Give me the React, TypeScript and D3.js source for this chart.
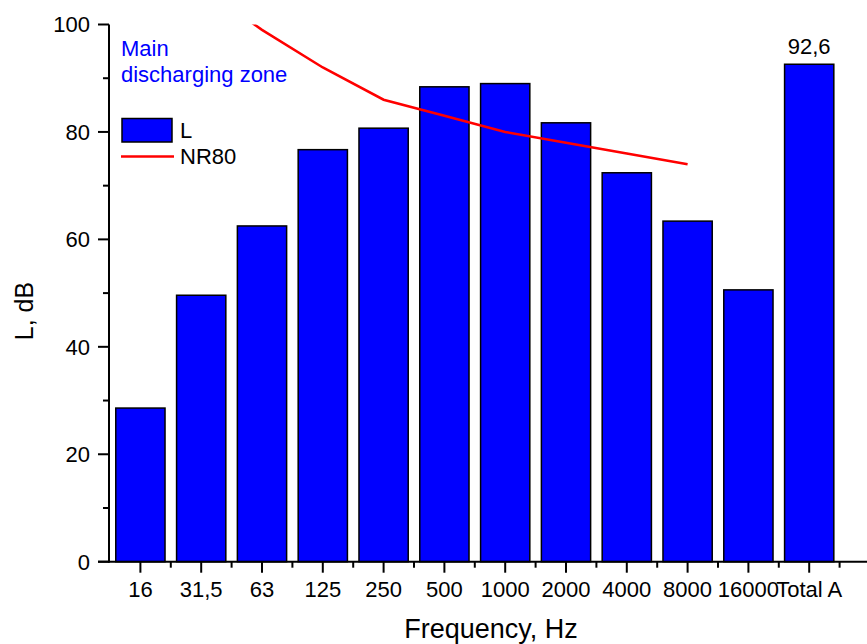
import React, { useEffect, useRef } from "react";
import * as d3 from "d3";

const categories = ["16", "31,5", "63", "125", "250", "500", "1000", "2000", "4000", "8000", "16000", "Total A"];
const levelL = [28.6, 49.6, 62.5, 76.7, 80.7, 88.4, 89.0, 81.7, 72.4, 63.4, 50.6, 92.6];
const nrCategories = ["31,5", "63", "125", "250", "500", "1000", "2000", "4000", "8000"];
const nr80 = [107, 99, 92, 86, 83, 80, 78, 76, 74];
const yTicks = [0, 20, 40, 60, 80, 100];
const yMinorTicks = [10, 30, 50, 70, 90];

const W = 867;
const H = 644;
const FONT = "Arial, 'Liberation Sans', sans-serif";

export default function App() {
  const ref = useRef<SVGSVGElement>(null);

  useEffect(() => {
    const svg = d3.select(ref.current);
    svg.selectAll("*").remove();

    const x0 = 110;
    const band = 60.8;
    const x = d3.scaleBand<string>().domain(categories).range([x0, x0 + band * categories.length]).paddingInner(0.19).paddingOuter(0.095);
    const center = (c: string) => (x(c) as number) + x.bandwidth() / 2;
    const y = d3.scaleLinear().domain([0, 100]).range([561.7, 24.5]);

    svg.append("defs").append("clipPath").attr("id", "plotclip")
      .append("rect").attr("x", x0).attr("y", y(100)).attr("width", W - x0).attr("height", y(0) - y(100));

    // bars
    svg.append("g").selectAll("rect").data(levelL).join("rect")
      .attr("x", (_d, i) => x(categories[i]) as number)
      .attr("y", (d) => y(d))
      .attr("width", x.bandwidth())
      .attr("height", (d) => y(0) - y(d))
      .attr("fill", "#0000ff")
      .attr("stroke", "#000")
      .attr("stroke-width", 1.5);

    // NR80 line
    const line = d3.line<number>().x((_d, i) => center(nrCategories[i])).y((d) => y(d));
    svg.append("path").attr("d", line(nr80) as string)
      .attr("fill", "none").attr("stroke", "#ff0000").attr("stroke-width", 2.5)
      .attr("clip-path", "url(#plotclip)");

    // axes
    const axisColor = "#000";
    const ax = svg.append("g");
    ax.append("line").attr("x1", x0 - 1).attr("x2", x0 - 1).attr("y1", y(100)).attr("y2", y(0) + 1)
      .attr("stroke", axisColor).attr("stroke-width", 2);
    ax.append("line").attr("x1", x0 - 12).attr("x2", W).attr("y1", y(0)).attr("y2", y(0))
      .attr("stroke", axisColor).attr("stroke-width", 2);

    yTicks.forEach((t) => {
      ax.append("line").attr("x1", x0 - 12).attr("x2", x0 - 1).attr("y1", y(t)).attr("y2", y(t))
        .attr("stroke", axisColor).attr("stroke-width", 2);
      ax.append("text").attr("x", x0 - 20).attr("y", y(t)).attr("dy", "0.36em")
        .attr("text-anchor", "end").attr("font-family", FONT).attr("font-size", 22).text(String(t));
    });
    yMinorTicks.forEach((t) => {
      ax.append("line").attr("x1", x0 - 7).attr("x2", x0 - 1).attr("y1", y(t)).attr("y2", y(t))
        .attr("stroke", axisColor).attr("stroke-width", 2);
    });

    categories.forEach((c, i) => {
      const cx = center(c);
      ax.append("line").attr("x1", cx).attr("x2", cx).attr("y1", y(0)).attr("y2", y(0) + 11)
        .attr("stroke", axisColor).attr("stroke-width", 2);
      const bx = x0 + band * (i + 1);
      ax.append("line").attr("x1", bx).attr("x2", bx).attr("y1", y(0)).attr("y2", y(0) + 6)
        .attr("stroke", axisColor).attr("stroke-width", 2);
      ax.append("text").attr("x", cx).attr("y", 597).attr("text-anchor", "middle")
        .attr("font-family", FONT).attr("font-size", 22).text(c);
    });

    // axis titles
    svg.append("text").attr("x", 491).attr("y", 638).attr("text-anchor", "middle")
      .attr("font-family", FONT).attr("font-size", 27).text("Frequency, Hz");
    svg.append("text").attr("transform", `translate(33,311) rotate(-90)`).attr("text-anchor", "middle")
      .attr("font-family", FONT).attr("font-size", 25).text("L, dB");

    // value label
    const last = categories.length - 1;
    svg.append("text").attr("x", center(categories[last])).attr("y", y(levelL[last]) - 10)
      .attr("text-anchor", "middle").attr("font-family", FONT).attr("font-size", 22)
      .text(String(levelL[last]).replace(".", ","));

    // annotation
    const ann = svg.append("text").attr("font-family", FONT).attr("font-size", 22).attr("fill", "#0000ff");
    ann.append("tspan").attr("x", 121).attr("y", 56).text("Main");
    ann.append("tspan").attr("x", 121).attr("y", 82).text("discharging zone");

    // legend
    svg.append("rect").attr("x", 122).attr("y", 118.5).attr("width", 50).attr("height", 23.5)
      .attr("fill", "#0000ff").attr("stroke", "#000").attr("stroke-width", 1.5);
    svg.append("text").attr("x", 180).attr("y", 138).attr("font-family", FONT).attr("font-size", 22).text("L");
    svg.append("line").attr("x1", 121).attr("x2", 174).attr("y1", 156.5).attr("y2", 156.5)
      .attr("stroke", "#ff0000").attr("stroke-width", 2.5);
    svg.append("text").attr("x", 180).attr("y", 164).attr("font-family", FONT).attr("font-size", 22).text("NR80");
  }, []);

  return (
    <svg ref={ref} width={W} height={H} style={{ position: "absolute", left: 0, top: 0, background: "#fff" }} />
  );
}
